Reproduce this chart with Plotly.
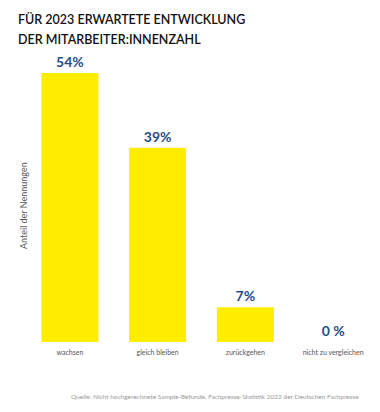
import plotly.graph_objects as go

categories = ["wachsen", "gleich bleiben", "zurückgehen", "nicht zu vergleichen"]
values = [54, 39, 7, 0]
value_labels = ["54%", "39%", "7%", "0 %"]
title_lines = ["FÜR 2023 ERWARTETE ENTWICKLUNG", "DER MITARBEITER:INNENZAHL"]

fig = go.Figure()
fig.add_trace(go.Bar(
    x=categories, y=values,
    marker=dict(color="#FFED00", line=dict(width=0)),
    text=value_labels, textposition="outside", cliponaxis=False,
    textfont=dict(family="Lato", size=14, color="#1F4E8C", weight="bold"),
    hoverinfo="skip",
))

PW, PH = 351, 269
annotations = []
for i, line in enumerate(title_lines):
    annotations.append(dict(
        text=line, xref="paper", yref="paper",
        x=-10/PW, y=(342 - (20 + 20*i))/PH,
        xanchor="left", yanchor="middle", align="left", showarrow=False,
        font=dict(family="Lato", size=12.5, color="#111111", weight=600)))
annotations += [
    dict(text="Anteil der Nennungen", textangle=-90,
         xref="paper", yref="paper", x=-3/PW, y=(342-206)/PH,
         xanchor="center", yanchor="middle", showarrow=False,
         font=dict(family="Lato", size=9, color="#555555")),
    dict(text="Quelle: Nicht hochgerechnete Sample-Befunde, Fachpresse-Statistik 2022 der Deutschen Fachpresse",
         xref="paper", yref="paper", x=335/PW, y=-55/PH,
         xanchor="right", yanchor="middle", showarrow=False,
         font=dict(family="Lato", size=6.5, color="#999999")),
]

fig.update_layout(
    width=380, height=412,
    margin=dict(l=26, r=3, t=73, b=70),
    paper_bgcolor="white", plot_bgcolor="white",
    bargap=0.35,
    showlegend=False,
    xaxis=dict(showline=False, showgrid=False, ticks="outside", ticklen=4,
               tickcolor="rgba(0,0,0,0)", automargin=False,
               tickfont=dict(family="Lato", size=7, color="#555555")),
    yaxis=dict(range=[0, 54], visible=False, automargin=False),
    annotations=annotations,
)

fig.write_html("out.html", config={"displayModeBar": False},
               post_script="document.body.style.margin='0';")
